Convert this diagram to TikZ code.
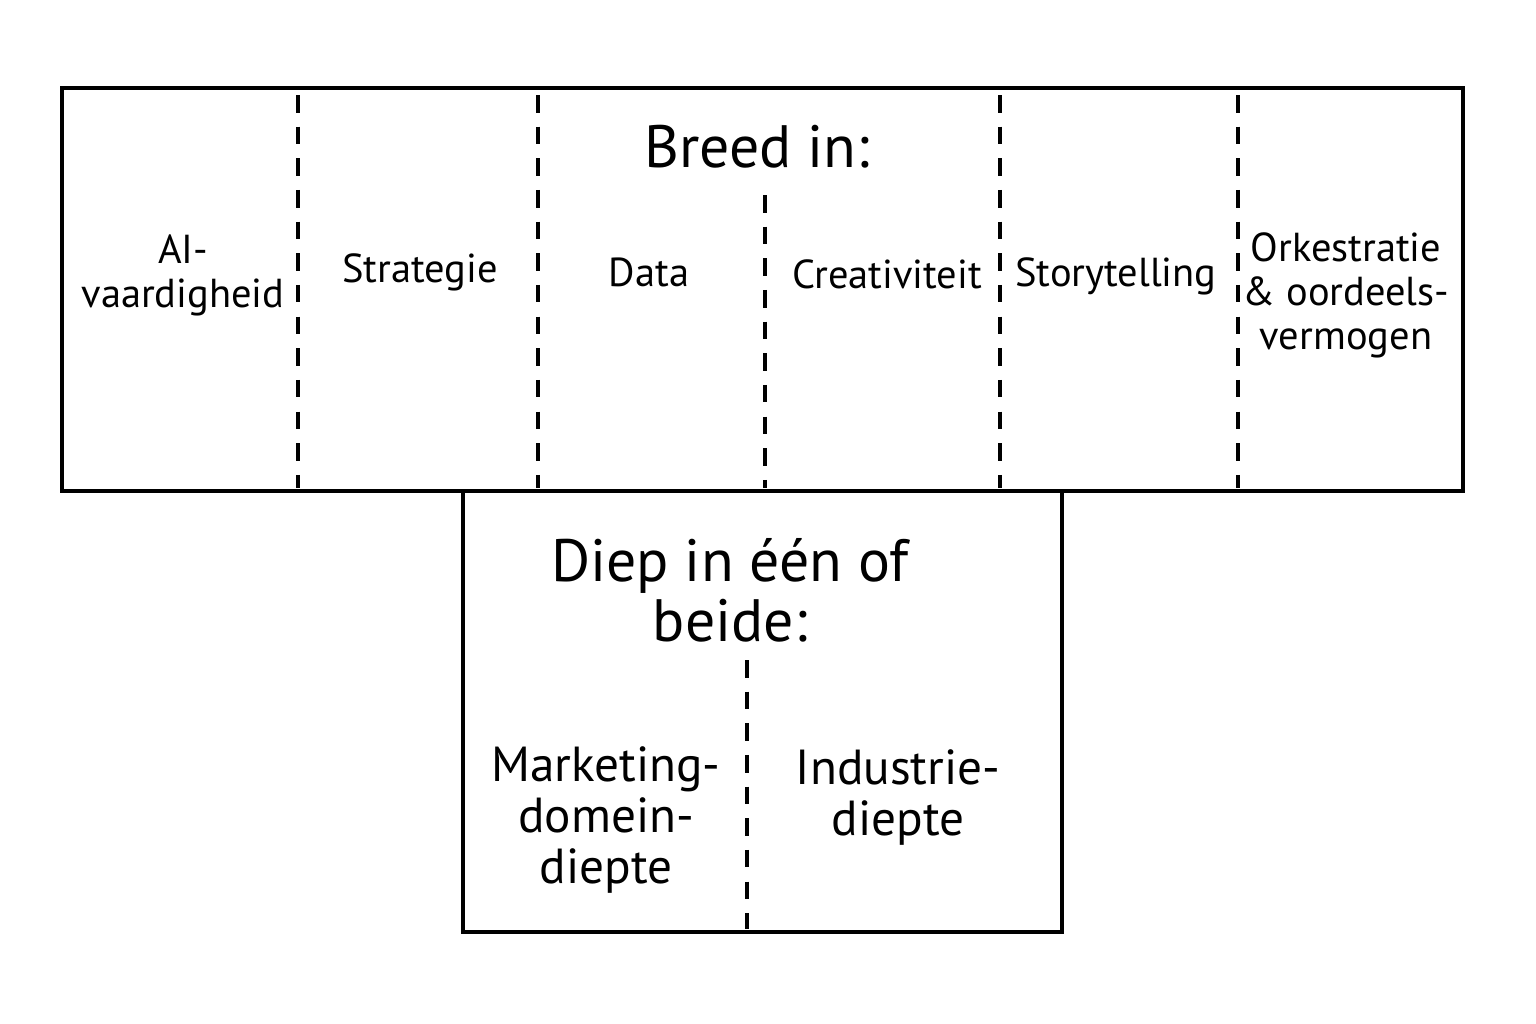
\documentclass[tikz,border=0pt]{standalone}
\usepackage{fontspec}
\setmainfont{PT Sans}
\usetikzlibrary{positioning}
\tikzset{
  box/.style={draw,line width=1.4pt},
  sep/.style={dash pattern=on 5pt off 4pt,line width=1pt},
  lbl/.style={align=center,font=\fontsize{11.5}{12.5}\selectfont},
  big/.style={align=center,font=\fontsize{14}{14.5}\selectfont},
  ttl/.style={align=center,font=\fontsize{17}{17}\selectfont}
}
\begin{document}
\begin{tikzpicture}[x=0.01cm,y=-0.01cm]

            \useasboundingbox (0,0) rectangle (1536,1024);

            % boxes
            \draw[box] (62,88) rectangle (1463,491);
            \draw[box] (463,491) rectangle (1062,932);

            % separators
            \foreach \x/\t in {298/95,538/95,765/195,1000/95,1238/95}
                \draw[sep] (\x,\t) -- (\x,488);
            \draw[sep] (747,660) -- (747,929);

            \node (b) [ttl] at (757,147) {Breed in:};
            \node (a) [lbl] at (183,275) {AI-\\vaardigheid};
            \node (s) [lbl] at (420,272) {Strategie};
            \node (d) [lbl] at (649,272) {Data};
            \node (c) [lbl] at (887,274) {Creativiteit};
            \node (t) [lbl] at (1116,276) {Storytelling};
            \node (o) [lbl] at (1346,295) {Orkestratie\\\& oordeels-\\vermogen};

            \node (e) [ttl] at (730,590) {Diep in één of\\beide:};
            \node (m) [big] at (606,820) {Marketing-\\domein-\\diepte};
            \node (i) [big] at (898,797) {Industrie-\\diepte};

\end{tikzpicture}
\end{document}
